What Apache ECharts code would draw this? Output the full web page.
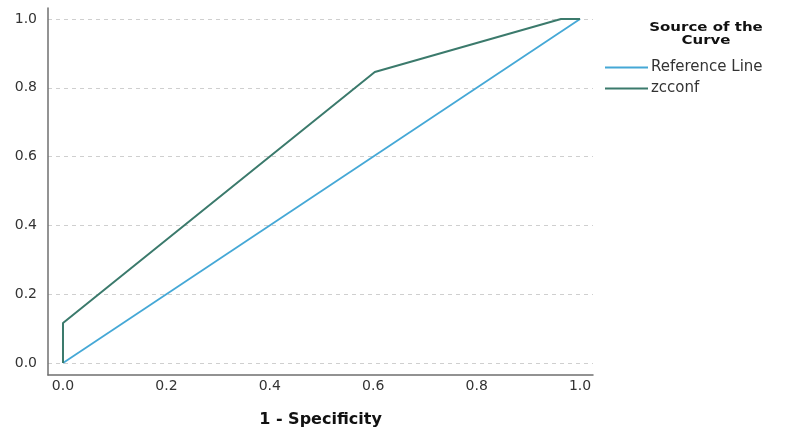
<!DOCTYPE html>
<html><head><meta charset="utf-8">
<script src="https://cdn.jsdelivr.net/npm/echarts@6/dist/echarts.min.js"></script>
<style>html,body{margin:0;padding:0;background:#fff}#c{width:810px;height:432px}</style>
</head><body><div id="c"></div>
<script>
var tickValues = [0, 0.2, 0.4, 0.6, 0.8, 1.0];
var refX = [0, 1];
var refY = [0, 1];
var rocX = [0, 0, 0.603, 0.963, 1];
var rocY = [0, 0.116, 0.846, 1, 1];
var seriesNames = ['Reference Line', 'zcconf'];
var colors = ['#45a8d6', '#3b7a6c'];

function pairs(xs, ys){ return xs.map(function(x,i){ return [x, ys[i]]; }); }

var FONT = '"DejaVu Sans", "Liberation Sans", Arial, sans-serif';
var chart = echarts.init(document.getElementById('c'));
var axisLabelStyle = { color: '#333', fontSize: 14, fontFamily: FONT, formatter: function(v){ return v.toFixed(1); } };
chart.setOption({
  animation: false,
  grid: { left: 48, right: 217, top: 8, bottom: 57, containLabel: false, outerBoundsMode: 'none' },
  xAxis: {
    type: 'value', min: -0.029, max: 1.025,
    name: '1 - Specificity', nameLocation: 'middle', nameGap: 37,
    nameTextStyle: { color: '#111', fontSize: 16, fontWeight: 'bold', fontFamily: FONT },
    axisLine: { show: true, onZero: false, lineStyle: { color: '#6f6f6f', width: 1.5 } },
    axisTick: { show: false, customValues: tickValues },
    axisLabel: Object.assign({ customValues: tickValues, margin: 4 }, axisLabelStyle),
    splitLine: { show: false }
  },
  yAxis: {
    type: 'value', min: -0.035, max: 1.032,
    axisLine: { show: true, onZero: false, lineStyle: { color: '#6f6f6f', width: 1.5 } },
    axisTick: { show: false, customValues: tickValues },
    axisLabel: Object.assign({ customValues: tickValues, margin: 11 }, axisLabelStyle),
    splitLine: { show: true, lineStyle: { color: '#cfcfcf', type: [4, 4], width: 1 } }
  },
  legend: {
    orient: 'vertical', left: 605, top: 60, padding: 0,
    icon: 'rect', itemWidth: 43, itemHeight: 2, itemGap: 6,
    textStyle: { color: '#333', fontSize: 15, lineHeight: 14, fontFamily: FONT, padding: [0,0,0,-2] },
    data: seriesNames
  },
  graphic: [
    { type: 'text', x: 706, y: 21, scaleX: 1.25, originX: 0, style: { x: 0, y: 0, text: 'Source of the\nCurve', align: 'center', fill: '#111', font: 'bold 12px ' + FONT, lineHeight: 13 } }
  ],
  series: [
    { name: seriesNames[0], type: 'line', data: pairs(refX, refY), showSymbol: false, symbol: 'none',
      lineStyle: { color: colors[0], width: 1.8 }, itemStyle: { color: colors[0] } },
    { name: seriesNames[1], type: 'line', data: pairs(rocX, rocY), showSymbol: false, symbol: 'none',
      lineStyle: { color: colors[1], width: 2 }, itemStyle: { color: colors[1] } }
  ]
});
</script></body></html>
